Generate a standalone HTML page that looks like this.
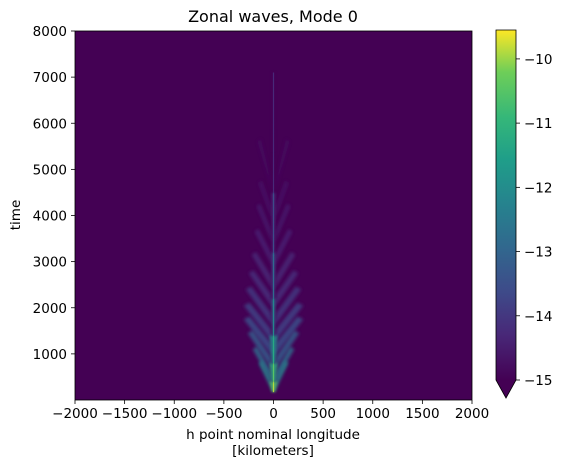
<!DOCTYPE html>
<html><head><meta charset="utf-8"><style>
body{margin:0;background:#fff;font-family:"Liberation Sans","DejaVu Sans",sans-serif;}
svg text{font-family:"DejaVu Sans","Liberation Sans",sans-serif;font-size:13.5px;fill:#000}
</style></head><body>
<svg id="chart" width="563" height="469" xmlns="http://www.w3.org/2000/svg">
<defs>
<linearGradient id="vir" x1="0" y1="1" x2="0" y2="0">
<stop offset="0" stop-color="#440154"/><stop offset="0.13" stop-color="#482878"/><stop offset="0.25" stop-color="#3e4a89"/><stop offset="0.38" stop-color="#31688e"/><stop offset="0.5" stop-color="#26828e"/><stop offset="0.63" stop-color="#1f9e89"/><stop offset="0.75" stop-color="#35b779"/><stop offset="0.88" stop-color="#6ece58"/><stop offset="1" stop-color="#fde725"/>
</linearGradient>
<filter id="blur" x="-50%" y="-50%" width="200%" height="200%"><feGaussianBlur stdDeviation="1.6"/></filter>
<filter id="blur2" x="-50%" y="-50%" width="200%" height="200%"><feGaussianBlur stdDeviation="1.2"/></filter>
<clipPath id="clip"><rect x="75" y="31" width="397" height="369"/></clipPath>
</defs>
<text x="273" y="22" text-anchor="middle" style="font-size:16px">Zonal waves, Mode 0</text>
<rect x="75" y="31" width="397" height="369" fill="#440154"/>
<g id="marks" clip-path="url(#clip)"></g>
<rect x="75" y="31" width="397" height="369" fill="none" stroke="#000" stroke-width="0.8"/>
<g id="axes"></g>
<text x="273" y="439" text-anchor="middle">h point nominal longitude</text>
<text x="273" y="455" text-anchor="middle">[kilometers]</text>
<text transform="translate(20,215) rotate(-90)" text-anchor="middle">time</text>
<rect x="496" y="30" width="20" height="350" fill="url(#vir)"/>
<path d="M496,380 L516,380 L506,398 Z" fill="#440154"/>
<path d="M496,30 H516 V380 L506,398 L496,380 Z" fill="none" stroke="#000" stroke-width="0.8"/>
<g id="cbaxis"></g>
</svg>
<script>
const xTicks=[-2000,-1500,-1000,-500,0,500,1000,1500,2000];
const yTicks=[1000,2000,3000,4000,5000,6000,7000,8000];
const cbTicks=[-10,-11,-12,-13,-14,-15];
// feather lobes: start time, end time, half-width at end (km), log value
const lobeStart=[170,350,650,950,1250,1600,2000,2400,2900,3400,3900,4500];
const lobeEnd=[800,1100,1450,1750,2050,2400,2750,3150,3650,4200,4700,5600];
const lobeWidth=[150,210,260,300,300,280,250,220,190,170,150,160];
const lobeValue=[-12.2,-12.8,-13.2,-13.5,-13.8,-14.0,-14.2,-14.3,-14.4,-14.5,-14.6,-14.75];
// central core segments
const coreStart=[170,400,800,1400,2200,3200,4500];
const coreEnd=[400,800,1400,2200,3200,4500,7100];
const coreValue=[-9.9,-10.5,-11.3,-12.2,-12.9,-13.6,-14.3];

const X0=-2000,X1=2000,Y0=0,Y1=8000;
const px=x=>75+(x-X0)/(X1-X0)*397;
const py=y=>400-(y-Y0)/(Y1-Y0)*369;
const cbY=v=>380-(v+15)/(5.45)*350;
const vmin=-15,vmax=-9.55;
const stops=[[68,1,84],[72,40,120],[62,74,137],[49,104,142],[38,130,142],[31,158,137],[53,183,121],[110,206,88],[253,231,37]];
function col(v){let t=Math.max(0,Math.min(1,(v-vmin)/(vmax-vmin)))*8;let i=Math.min(7,Math.floor(t)),f=t-i;
 const a=stops[i],b=stops[i+1];return `rgb(${a.map((c,k)=>Math.round(c+(b[k]-c)*f)).join(',')})`;}
const NS="http://www.w3.org/2000/svg";
const g=document.getElementById('marks');
function mk(tag,attrs,parent){const e=document.createElementNS(NS,tag);for(const k in attrs)e.setAttribute(k,attrs[k]);parent.appendChild(e);return e;}
for(let i=lobeStart.length-1;i>=0;i--){
 for(const s of [-1,1]){
  const w=lobeWidth[i];
  const d=`M${px(s*10)},${py(lobeStart[i])} L${px(s*w)},${py(lobeEnd[i])} L${px(s*w*0.8)},${py(lobeEnd[i]+60)} L${px(s*30)},${py(lobeStart[i]+300)} Z`;
  const p=mk('path',{d:d,fill:col(lobeValue[i]),filter:'url(#blur)',opacity:0.85},g);
  
  
 }
}
for(let i=0;i<coreStart.length;i++){
 const w=(i<3?40:20);
 const r=mk('path',{d:`M${px(-w)},${py(coreEnd[i])} L${px(w)},${py(coreEnd[i])} L${px(w*0.5)},${py(coreStart[i])} L${px(-w*0.5)},${py(coreStart[i])} Z`,fill:col(coreValue[i]-0.7),filter:'url(#blur2)',opacity:0.85},g);
 
 
 const l=mk('line',{x1:px(0),x2:px(0),y1:py(coreStart[i]),y2:py(coreEnd[i]),stroke:col(coreValue[i]),'stroke-width':1.2},g);
 
 
}
const ax=document.getElementById('axes');
xTicks.forEach(t=>{const x=px(t);
 mk('line',{x1:x,x2:x,y1:400,y2:404,stroke:'#000','stroke-width':0.8},ax);
 const tx=mk('text',{x:x,y:418,'text-anchor':'middle'},ax);tx.textContent=t<0?'\u2212'+Math.abs(t):t;
 
 });
yTicks.forEach(t=>{const y=py(t);
 mk('line',{x1:71,x2:75,y1:y,y2:y,stroke:'#000','stroke-width':0.8},ax);
 const tx=mk('text',{x:67,y:y+5,'text-anchor':'end'},ax);tx.textContent=t;
 
 });
const cb=document.getElementById('cbaxis');
cbTicks.forEach(t=>{const y=cbY(t);
 mk('line',{x1:516,x2:520,y1:y,y2:y,stroke:'#000','stroke-width':0.8},cb);
 const tx=mk('text',{x:524,y:y+5},cb);tx.textContent='\u2212'+Math.abs(t);
 
 });
</script>
</body></html>
